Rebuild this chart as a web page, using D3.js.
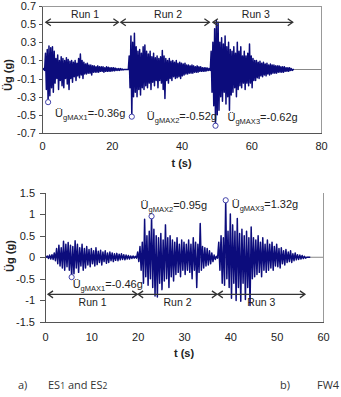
<!DOCTYPE html>
<html lang="en">
<head>
<meta charset="UTF-8">
<title>Ground acceleration records</title>
<script src="https://cdn.jsdelivr.net/npm/d3@7/dist/d3.min.js"></script>
<style>
    body { margin: 0; background: #fff; }
    svg text { font-family: "Liberation Sans", Arial, sans-serif; fill: #222; }
    .axis path, .axis line { stroke: #555; shape-rendering: crispEdges; }
    .axis text { font-size: 11px; fill: #222; }
    .caption { font-family: "Open Sans", Lato, sans-serif; font-size: 11px; fill: #333; }
</style>
</head>
<body>
<div id="output"></div>
<script>

// ---- data (peak envelope read every 0.5 s) ----
var step = 0.5;

// top panel (ES1 and ES2), 0 .. 72 s
var topUpper = [
    0, 0.01, 0.18, 0.22, 0.26, 0.24, 0.25, 0.2, 0.12, 0.16,
    0.1, 0.14, 0.12, 0.1, 0.13, 0.11, 0.09, 0.1, 0.08, 0.1,
    0.07, 0.12, 0.17, 0.1, 0.08, 0.06, 0.07, 0.05, 0.05, 0.04,
    0.04, 0.03, 0.04, 0.03, 0.03, 0.03, 0.02, 0.03, 0.025, 0.02,
    0.02, 0.02, 0.015, 0.01, 0.01, 0.01, 0.005, 0, 0, 0,
    0.15, 0.37, 0.3, 0.4, 0.25, 0.2, 0.22, 0.18, 0.25, 0.27,
    0.2, 0.17, 0.2, 0.14, 0.18, 0.13, 0.15, 0.12, 0.14, 0.21,
    0.15, 0.12, 0.1, 0.12, 0.09, 0.1, 0.08, 0.1, 0.07, 0.08,
    0.07, 0.06, 0.07, 0.05, 0.05, 0.04, 0.05, 0.04, 0.03, 0.04,
    0.03, 0.03, 0.02, 0.02, 0.02, 0.015, 0.01, 0.2, 0.3, 0.45,
    0.54, 0.52, 0.3, 0.35, 0.28, 0.37, 0.25, 0.3, 0.22, 0.2,
    0.25, 0.18, 0.3, 0.2, 0.25, 0.15, 0.2, 0.15, 0.18, 0.28,
    0.15, 0.12, 0.1, 0.1, 0.08, 0.09, 0.07, 0.08, 0.06, 0.07,
    0.05, 0.06, 0.05, 0.05, 0.04, 0.04, 0.04, 0.03, 0.03, 0.03,
    0.02, 0.02, 0.02, 0.01, 0
];
var topLower = [
    0, -0.01, -0.22, -0.36, -0.29, -0.2, -0.25, -0.15, -0.1, -0.22,
    -0.12, -0.18, -0.2, -0.1, -0.16, -0.22, -0.1, -0.14, -0.08, -0.12,
    -0.07, -0.09, -0.06, -0.1, -0.05, -0.05, -0.04, -0.04, -0.06, -0.03,
    -0.03, -0.03, -0.03, -0.02, -0.02, -0.03, -0.02, -0.02, -0.02, -0.02,
    -0.015, -0.015, -0.01, -0.01, -0.01, -0.005, -0.005, 0, 0, 0,
    -0.2, -0.52, -0.3, -0.25, -0.3, -0.22, -0.28, -0.2, -0.22, -0.18,
    -0.2, -0.15, -0.22, -0.14, -0.18, -0.12, -0.2, -0.12, -0.15, -0.22,
    -0.32, -0.12, -0.15, -0.1, -0.12, -0.08, -0.1, -0.09, -0.08, -0.1,
    -0.07, -0.06, -0.05, -0.05, -0.04, -0.04, -0.04, -0.03, -0.03, -0.03,
    -0.02, -0.02, -0.02, -0.02, -0.015, -0.01, -0.01, -0.25, -0.4, -0.62,
    -0.5, -0.45, -0.3, -0.35, -0.25, -0.38, -0.3, -0.45, -0.28, -0.25,
    -0.2, -0.3, -0.22, -0.18, -0.2, -0.15, -0.22, -0.15, -0.18, -0.15,
    -0.2, -0.12, -0.12, -0.09, -0.1, -0.07, -0.08, -0.06, -0.07, -0.05,
    -0.06, -0.05, -0.04, -0.04, -0.04, -0.03, -0.03, -0.03, -0.03, -0.02,
    -0.02, -0.02, -0.01, -0.01, 0
];
var topYTicks = [-0.7, -0.5, -0.3, -0.1, 0.1, 0.3, 0.5, 0.7];
var topXTicks = [0, 20, 40, 60, 80];
var topRunNames = ["Run 1", "Run 2", "Run 3"];
var topRunStart = [1.1, 22.6, 49.0];
var topRunEnd = [21.9, 48.0, 71.9];
var topPeakT = [1.75, 25.75, 49.75];
var topPeakV = [-0.36, -0.52, -0.62];

// bottom panel (FW4), 0 .. 57 s
var botUpper = [
    0, 0.03, 0.05, 0.06, 0.1, 0.2, 0.28, 0.22, 0.37, 0.3,
    0.34, 0.28, 0.25, 0.38, 0.3, 0.22, 0.3, 0.2, 0.25, 0.18,
    0.2, 0.15, 0.22, 0.14, 0.16, 0.12, 0.15, 0.1, 0.12, 0.1,
    0.08, 0.09, 0.07, 0.08, 0.06, 0.05, 0.04, 0.03, 0.03, 0.02,
    0.12, 0.25, 0.35, 0.88, 0.5, 0.6, 0.95, 0.65, 0.5, 0.45,
    0.55, 0.4, 0.75, 0.45, 0.5, 0.4, 0.35, 0.45, 0.3, 0.4,
    0.35, 0.3, 0.4, 0.3, 0.45, 0.35, 0.3, 0.78, 0.25, 0.22,
    0.2, 0.15, 0.1, 0.05, 0.02, 0.35, 0.5, 0.45, 1.32, 0.6,
    1.0, 0.75, 0.6, 0.9, 0.55, 0.65, 0.5, 0.6, 0.45, 0.7,
    0.45, 0.4, 0.5, 0.35, 0.45, 0.3, 0.4, 0.3, 0.35, 0.25,
    0.3, 0.2, 0.22, 0.15, 0.18, 0.12, 0.15, 0.08, 0.1, 0.06,
    0.05, 0.04, 0.02, 0, 0
];
var botLower = [
    0, -0.03, -0.04, -0.05, -0.08, -0.15, -0.2, -0.25, -0.3, -0.22,
    -0.3, -0.46, -0.38, -0.25, -0.35, -0.2, -0.3, -0.25, -0.18, -0.22,
    -0.15, -0.2, -0.17, -0.12, -0.18, -0.1, -0.14, -0.12, -0.08, -0.1,
    -0.07, -0.08, -0.06, -0.05, -0.06, -0.04, -0.04, -0.03, -0.02, -0.02,
    -0.1, -0.3, -0.6, -0.45, -0.65, -0.5, -0.7, -0.9, -0.92, -0.6,
    -0.75, -0.55, -0.5, -0.7, -0.45, -0.55, -0.4, -0.35, -0.45, -0.3,
    -0.4, -0.3, -0.35, -0.5, -0.3, -0.7, -0.35, -0.3, -0.25, -0.2,
    -0.18, -0.15, -0.1, -0.05, -0.02, -0.3, -0.6, -0.65, -0.5, -0.7,
    -0.95, -0.6, -1.0, -0.7, -1.02, -0.6, -0.98, -0.7, -1.12, -0.5,
    -0.45, -0.4, -0.35, -0.45, -0.3, -0.35, -0.3, -0.25, -0.3, -0.2,
    -0.22, -0.25, -0.15, -0.18, -0.12, -0.1, -0.12, -0.08, -0.06, -0.05,
    -0.04, -0.03, -0.02, 0, 0
];
var botYTicks = [-1.5, -1, -0.5, 0, 0.5, 1, 1.5];
var botXTicks = [0, 10, 20, 30, 40, 50, 60];
var botRunNames = ["Run 1", "Run 2", "Run 3"];
var botRunStart = [0.65, 20.1, 37.3];
var botRunEnd = [19.9, 37.1, 56.1];
var botPeakT = [5.75, 23, 39];
var botPeakV = [-0.46, 0.95, 1.32];

var navy = "#0c0c7c";

var svg = d3.select("#output")
    .append("svg")
    .attr("width", 341)
    .attr("height", 397);

// alternate between the upper and lower peak of every interval
function zigzag(upper, lower) {
    var pts = [];
    upper.forEach(function(u, i) {
        pts.push([i * step, u]);
        pts.push([i * step + step / 2, lower[i]]);
    });
    return pts;
}

function drawPanel(p) {
    var x = d3.scaleLinear().domain(p.xDomain).range([p.left, p.right]);
    var y = d3.scaleLinear().domain(p.yDomain).range([p.bottom, p.top]);
    var g = svg.append("g");

    // frame
    g.append("line")
        .attr("x1", p.right).attr("x2", p.right)
        .attr("y1", p.top).attr("y2", p.bottom)
        .attr("stroke", "#999").attr("shape-rendering", "crispEdges");
    if (p.topBorder) {
        g.append("line")
            .attr("x1", p.left).attr("x2", p.right)
            .attr("y1", p.top).attr("y2", p.top)
            .attr("stroke", "#999").attr("shape-rendering", "crispEdges");
    }

    // zero line
    g.append("line")
        .attr("x1", p.left).attr("x2", p.right)
        .attr("y1", y(0)).attr("y2", y(0))
        .attr("stroke", "#888");

    var line = d3.line()
        .x(function(d) { return x(d[0]); })
        .y(function(d) { return y(d[1]); });

    g.append("path")
        .attr("d", line(zigzag(p.upper, p.lower)))
        .attr("fill", "none")
        .attr("stroke", navy)
        .attr("stroke-width", 1.5)
        .attr("stroke-linejoin", "round");

    // axes
    g.append("g").attr("class", "axis")
        .attr("transform", "translate(" + p.left + ",0)")
        .call(d3.axisLeft(y).tickValues(p.yTicks).tickSizeInner(p.yTick).tickSizeOuter(0)
            .tickPadding(p.yPad).tickFormat(function(d) { return String(d); }));

    g.append("g").attr("class", "axis")
        .attr("transform", "translate(0," + p.bottom + ")")
        .call(d3.axisBottom(x).tickValues(p.xTicks).tickSize(0).tickPadding(p.xPad)
            .tickFormat(d3.format("d")));

    // run arrows
    var runs = g.selectAll(".run").data(p.runNames).enter().append("g");
    runs.append("line")
        .attr("x1", function(d, i) { return x(p.runStart[i]); })
        .attr("x2", function(d, i) { return x(p.runEnd[i]); })
        .attr("y1", y(p.runY)).attr("y2", y(p.runY))
        .attr("stroke", "#333").attr("stroke-width", 1.1);
    runs.append("path")
        .attr("d", function(d, i) {
            var a = x(p.runStart[i]), b = x(p.runEnd[i]), yy = y(p.runY);
            return "M" + (a + 5) + "," + (yy - 3.5) + "L" + a + "," + yy + "L" + (a + 5) + "," + (yy + 3.5) +
                "M" + (b - 5) + "," + (yy - 3.5) + "L" + b + "," + yy + "L" + (b - 5) + "," + (yy + 3.5);
        })
        .attr("fill", "none").attr("stroke", "#333").attr("stroke-width", 1.3);
    runs.append("text")
        .attr("x", function(d, i) { return x((p.runStart[i] + p.runEnd[i]) / 2) + p.runLabelDx; })
        .attr("y", y(p.runY) + p.runLabelDy)
        .attr("text-anchor", "middle")
        .style("font-size", "10.5px")
        .text(function(d) { return d; });

    // peak markers and labels
    g.selectAll(".peak").data(p.peakV).enter().append("circle")
        .attr("cx", function(d, i) { return x(p.peakT[i]); })
        .attr("cy", function(d) { return y(d); })
        .attr("r", 2.6)
        .attr("fill", "#fff")
        .attr("stroke", "#4444aa")
        .attr("stroke-width", 1);

    var labels = g.selectAll(".plabel").data(p.peakV).enter().append("text")
        .attr("x", function(d, i) { return x(p.peakT[i]) + p.labelDx[i]; })
        .attr("y", function(d, i) { return y(d) + p.labelDy[i]; })
        .attr("dy", "0.35em")
        .style("font-size", "11px");
    labels.append("tspan").text("\u00dc");
    labels.append("tspan").attr("dy", 3).style("font-size", "7.5px")
        .text(function(d, i) { return "gMAX" + (i + 1); });
    labels.append("tspan").attr("dy", -3)
        .text(function(d) { return "=" + d.toFixed(2) + "g"; });

    // titles
    g.append("text")
        .attr("x", (p.left + p.right) / 2)
        .attr("y", p.xTitleY)
        .attr("text-anchor", "middle")
        .style("font-size", "11px").style("font-weight", "bold")
        .text("t (s)");
    g.append("text")
        .attr("transform", "translate(" + p.yTitleX + "," + p.yTitleY + ") rotate(-90)")
        .attr("text-anchor", "middle")
        .style("font-size", "11px").style("font-weight", "bold")
        .text("\u00dcg (g)");
}

drawPanel({
    left: 42, right: 321, top: 6, bottom: 133,
    xDomain: [0, 80], yDomain: [-0.7, 0.7],
    xTicks: topXTicks, yTicks: topYTicks,
    yTick: 3, yPad: 3, xPad: 9, topBorder: true,
    upper: topUpper, lower: topLower,
    runNames: topRunNames, runStart: topRunStart, runEnd: topRunEnd,
    runY: 0.52, runLabelDy: -4, runLabelDx: 3,
    peakT: topPeakT, peakV: topPeakV,
    labelDx: [7, 15, 12], labelDy: [11, -1, -9],
    xTitleY: 167, yTitleX: 12, yTitleY: 75
});

drawPanel({
    left: 45, right: 323, top: 192.5, bottom: 322,
    xDomain: [0, 60], yDomain: [-1.5, 1.5],
    xTicks: botXTicks, yTicks: botYTicks,
    yTick: 5, yPad: 5, xPad: 11, topBorder: false,
    upper: botUpper, lower: botLower,
    runNames: botRunNames, runStart: botRunStart, runEnd: botRunEnd,
    runY: -0.86, runLabelDy: 12, runLabelDx: 0,
    peakT: botPeakT, peakV: botPeakV,
    labelDx: [1, -11, 6], labelDy: [7, -11, 4],
    xTitleY: 357, yTitleX: 14, yTitleY: 256
});

// captions
var cap = svg.append("g");
cap.append("text").attr("class", "caption").attr("x", 18).attr("y", 389).text("a)");
var es = cap.append("text").attr("class", "caption").attr("x", 48).attr("y", 389);
es.append("tspan").text("ES");
es.append("tspan").style("font-size", "8.5px").text("1");
es.append("tspan").text(" and ES");
es.append("tspan").style("font-size", "8.5px").text("2");
cap.append("text").attr("class", "caption").attr("x", 280).attr("y", 389).text("b)");
cap.append("text").attr("class", "caption").attr("x", 317).attr("y", 389).text("FW4");

</script>
</body>
</html>
